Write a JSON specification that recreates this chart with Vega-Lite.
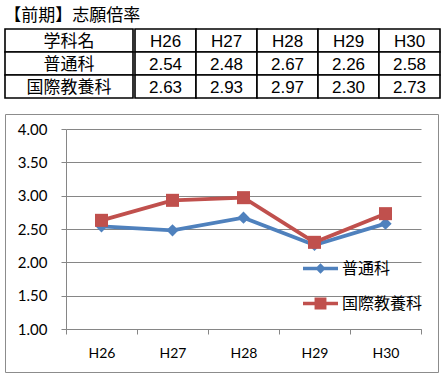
{
  "$schema": "https://vega.github.io/schema/vega-lite/v6.json",
  "padding": {"left": 4, "top": 7, "right": 2, "bottom": 0},
  "background": "white",
  "title": {"text": "【前期】志願倍率", "anchor": "start", "font": "Noto Sans CJK JP", "fontSize": 17, "fontWeight": "normal", "color": "black", "offset": 3},
  "config": {"view": {"stroke": null}},
  "datasets": {
    "names": [{"row": "学科名"}, {"row": "普通科"}, {"row": "国際教養科"}],
    "cells": [
      {"row": "学科名", "col": "H26", "t": "H26"},
      {"row": "学科名", "col": "H27", "t": "H27"},
      {"row": "学科名", "col": "H28", "t": "H28"},
      {"row": "学科名", "col": "H29", "t": "H29"},
      {"row": "学科名", "col": "H30", "t": "H30"},
      {"row": "普通科", "col": "H26", "t": "2.54"},
      {"row": "普通科", "col": "H27", "t": "2.48"},
      {"row": "普通科", "col": "H28", "t": "2.67"},
      {"row": "普通科", "col": "H29", "t": "2.26"},
      {"row": "普通科", "col": "H30", "t": "2.58"},
      {"row": "国際教養科", "col": "H26", "t": "2.63"},
      {"row": "国際教養科", "col": "H27", "t": "2.93"},
      {"row": "国際教養科", "col": "H28", "t": "2.97"},
      {"row": "国際教養科", "col": "H29", "t": "2.30"},
      {"row": "国際教養科", "col": "H30", "t": "2.73"}
    ],
    "series": [
      {"year": "H26", "series": "普通科", "value": 2.54},
      {"year": "H27", "series": "普通科", "value": 2.48},
      {"year": "H28", "series": "普通科", "value": 2.67},
      {"year": "H29", "series": "普通科", "value": 2.26},
      {"year": "H30", "series": "普通科", "value": 2.58},
      {"year": "H26", "series": "国際教養科", "value": 2.63},
      {"year": "H27", "series": "国際教養科", "value": 2.93},
      {"year": "H28", "series": "国際教養科", "value": 2.97},
      {"year": "H29", "series": "国際教養科", "value": 2.30},
      {"year": "H30", "series": "国際教養科", "value": 2.73}
    ]
  },
  "spacing": 14,
  "vconcat": [
    {
      "spacing": 0,
      "hconcat": [
        {
          "width": 128,
          "height": 69,
          "data": {"name": "names"},
          "encoding": {
            "y": {"field": "row", "type": "nominal", "sort": ["学科名", "普通科", "国際教養科"], "scale": {"paddingInner": 0, "paddingOuter": 0}, "axis": null}
          },
          "layer": [
            {"mark": {"type": "rect", "fill": "white", "stroke": "black", "strokeWidth": 1.6}},
            {"mark": {"type": "text", "font": "Noto Sans CJK JP", "fontSize": 17, "color": "black", "baseline": "middle", "dy": 1}, "encoding": {"text": {"field": "row"}}}
          ]
        },
        {
          "width": 305,
          "height": 69,
          "data": {"name": "cells"},
          "encoding": {
            "x": {"field": "col", "type": "nominal", "scale": {"paddingInner": 0, "paddingOuter": 0}, "axis": null},
            "y": {"field": "row", "type": "nominal", "sort": ["学科名", "普通科", "国際教養科"], "scale": {"paddingInner": 0, "paddingOuter": 0}, "axis": null}
          },
          "layer": [
            {"mark": {"type": "rect", "fill": "white", "stroke": "black", "strokeWidth": 1.6}},
            {"mark": {"type": "text", "font": "Liberation Sans", "fontSize": 17, "color": "black", "baseline": "middle", "dy": 1}, "encoding": {"text": {"field": "t"}}}
          ]
        }
      ]
    },
    {
      "width": 433,
      "height": 258,
      "view": {"stroke": "#8c8c8c", "strokeWidth": 1},
      "data": {"name": "series"},
      "encoding": {
        "x": {
          "field": "year", "type": "nominal",
          "scale": {"range": [61, 416], "paddingInner": 0, "paddingOuter": 0},
          "axis": {"title": null, "orient": "bottom", "offset": -43, "labelAngle": 0, "tickBand": "extent", "tickSize": 5, "tickColor": "#868686", "domainColor": "#868686", "labelFont": "Lato", "labelFontSize": 14, "labelColor": "black", "labelPadding": 12, "grid": false}
        },
        "y": {
          "field": "value", "type": "quantitative",
          "scale": {"domain": [1, 4], "range": [215, 15], "nice": false, "zero": false},
          "axis": {"title": null, "offset": -61, "values": [1, 1.5, 2, 2.5, 3, 3.5, 4], "format": ".2f", "grid": true, "gridColor": "#868686", "gridWidth": 1, "tickSize": 5, "tickColor": "#868686", "domainColor": "#868686", "labelFont": "Lato", "labelFontSize": 15, "labelColor": "black", "labelPadding": 14}
        },
        "color": {
          "field": "series", "type": "nominal",
          "scale": {"domain": ["普通科", "国際教養科"], "range": ["#4F81BD", "#C0504D"]},
          "legend": {
            "title": null, "orient": "none", "legendX": 298, "legendY": 222,
            "labelFont": "Noto Sans CJK JP", "labelFontSize": 16, "labelColor": "black", "labelOffset": 4,
            "symbolSize": 1225, "symbolStrokeWidth": 0, "rowPadding": 9,
            "encode": {
              "symbols": {
                "update": {
                  "shape": {"signal": "datum.value === '普通科' ? 'M-1,-0.1L-0.2,-0.1L0,-0.3L0.2,-0.1L1,-0.1L1,0.1L0.2,0.1L0,0.3L-0.2,0.1L-1,0.1Z' : 'M-1,-0.1L-0.34,-0.1L-0.34,-0.34L0.34,-0.34L0.34,-0.1L1,-0.1L1,0.1L0.34,0.1L0.34,0.34L-0.34,0.34L-0.34,0.1L-1,0.1Z'"},
                  "fill": {"signal": "datum.value === '普通科' ? '#4F81BD' : '#C0504D'"},
                  "opacity": {"value": 1}
                }
              }
            }
          }
        }
      },
      "layer": [
        {
          "mark": {"type": "line", "strokeWidth": 3.8}
        },
        {
          "transform": [{"filter": "datum.series === '普通科'"}],
          "mark": {"type": "point", "filled": true, "opacity": 1, "shape": "diamond", "size": 150}
        },
        {
          "transform": [{"filter": "datum.series === '国際教養科'"}],
          "mark": {"type": "point", "filled": true, "opacity": 1, "shape": "square", "size": 170}
        }
      ]
    }
  ]
}
